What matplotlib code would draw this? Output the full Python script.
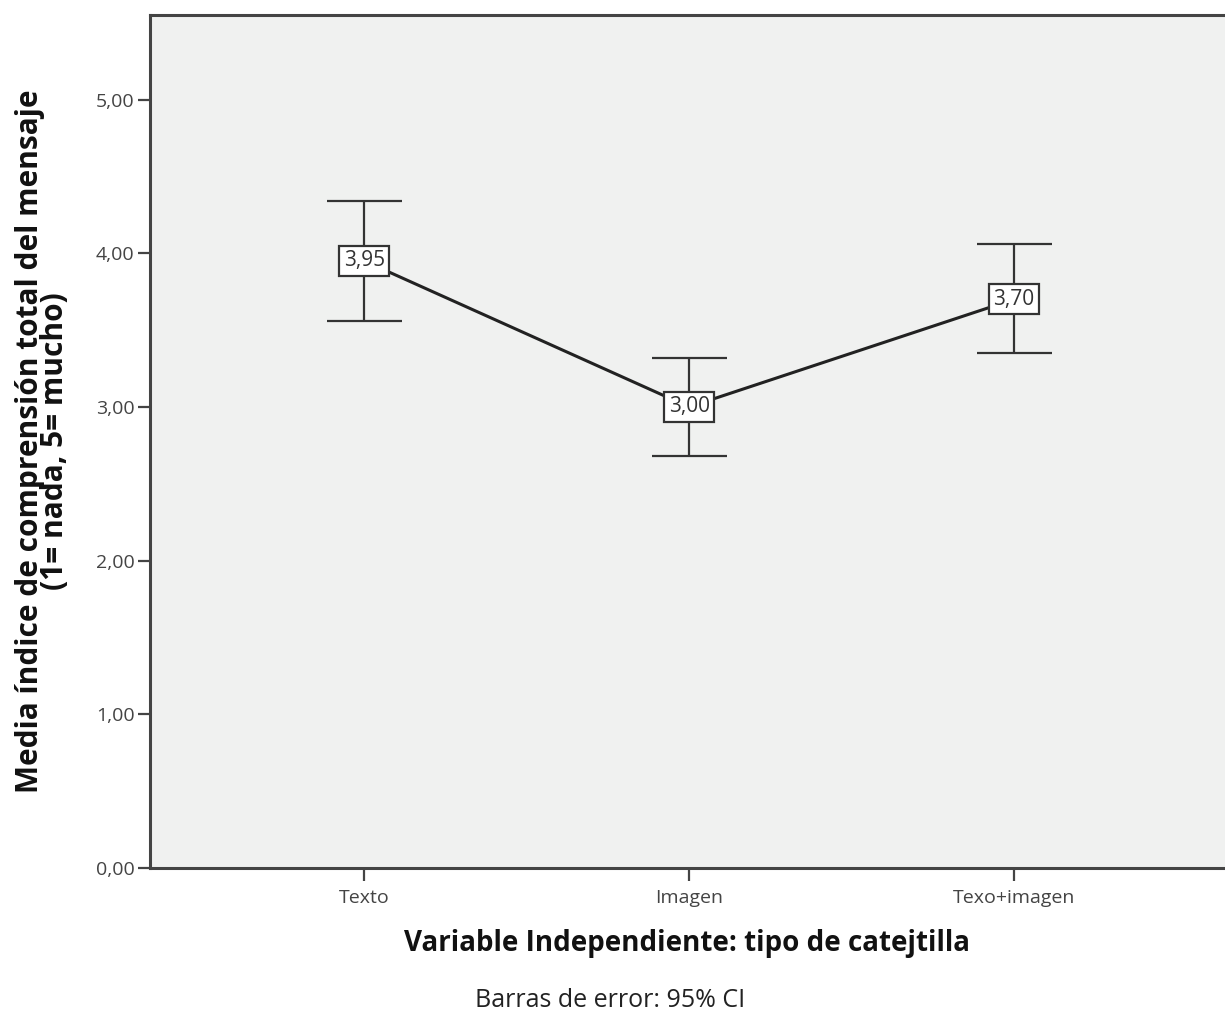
import matplotlib
matplotlib.use("Agg")
import numpy as np
import matplotlib.pyplot as plt

# categorias y valores
categorias = ["Texto", "Imagen", "Texo+imagen"]
medias = [3.95, 3.00, 3.70]
ic_inf = [3.56, 2.68, 3.35]
ic_sup = [4.34, 3.32, 4.06]
yticks = [0, 1, 2, 3, 4, 5]

plt.rcParams['font.family'] = ['Open Sans', 'DejaVu Sans']

fig = plt.figure(figsize=(12.25, 10.15), dpi=100)
ax = fig.add_axes([0.1224, 0.1448, 0.8776, 0.8404])
ax.set_facecolor('#f0f1f0')

x = np.arange(len(categorias))
medias = np.array(medias)
err = np.array([medias - np.array(ic_inf), np.array(ic_sup) - medias])

ax.plot(x, medias, color='#222222', lw=2.2, zorder=2)
ax.errorbar(x, medias, yerr=err, fmt='none', ecolor='#333333', elinewidth=1.6,
            capsize=27, capthick=1.6, zorder=3)
for xi, m in zip(x, medias):
    ax.text(xi, m, '{:.2f}'.format(m).replace('.', ','), ha='center', va='center',
            fontsize=15, color='#333333', zorder=4,
            bbox=dict(boxstyle='square,pad=0.22', fc='white', ec='#333333', lw=1.6))

ax.set_xlim(-0.66, 2.65)
ax.set_ylim(0, 5.55)
ax.set_xticks(x)
ax.set_xticklabels(categorias, fontsize=14, color='#444444')
ax.set_yticks(yticks)
ax.set_yticklabels(['{:.2f}'.format(v).replace('.', ',') for v in yticks],
                   fontsize=14, color='#444444')
ax.tick_params(axis='both', length=9, width=1.6, color='#444444')
ax.tick_params(axis='x', pad=6)
ax.tick_params(axis='y', pad=2)

for s in ['left', 'top', 'bottom']:
    ax.spines[s].set_color('#444444')
    ax.spines[s].set_linewidth(2.2)
ax.spines['right'].set_visible(False)

ax.set_ylabel('Media índice de comprensión total del mensaje\n(1= nada, 5= mucho)',
              fontsize=21.5, fontweight='bold', color='#111111', linespacing=0.76,
              labelpad=19)
ax.set_xlabel('Variable Independiente: tipo de catejtilla', fontsize=20,
              fontweight='bold', color='#111111', labelpad=16)
fig.text(0.498, 0.002, 'Barras de error: 95% CI', ha='center', va='bottom',
         fontsize=18, color='#222222')

fig.savefig('out.png', dpi=100)
